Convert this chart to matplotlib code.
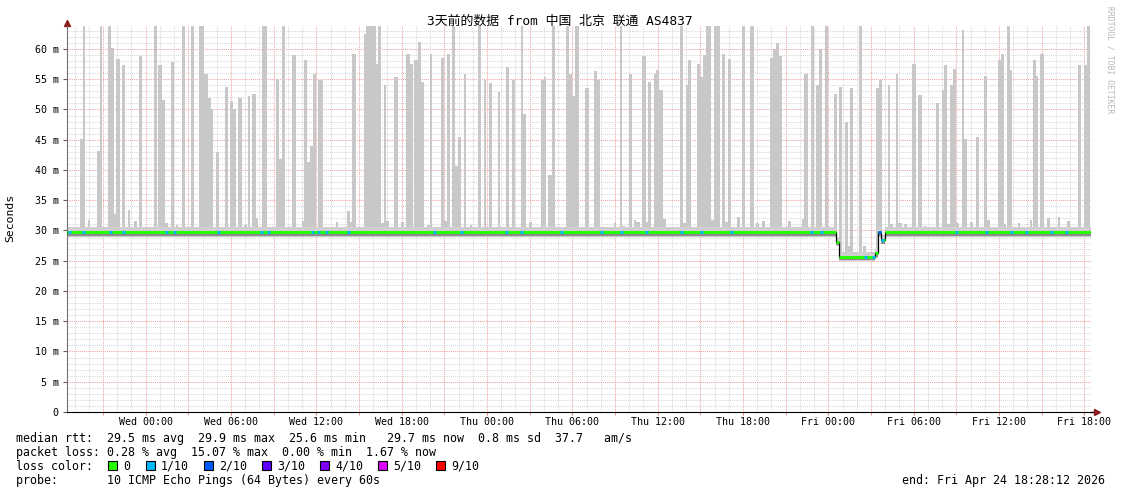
import numpy as np
import matplotlib
matplotlib.use("Agg")
import matplotlib.pyplot as plt
import matplotlib.dates as mdates
from matplotlib.patches import Rectangle
from datetime import datetime

plt.rcParams['font.family'] = ['DejaVu Sans Mono', 'Noto Sans CJK SC']

START = datetime(2026, 4, 21, 18, 28, 12)
SPAN_MIN = 4320  # 3 days

# smoke spikes (minutes since start, top in ms); 68 = off the scale
spikeStart = [53, 67, 87, 127, 141, 172, 186, 197, 208, 231, 256, 281, 304, 366, 385, 399, 413, 439, 458, 484,
              523, 557, 579, 593, 607, 627, 666, 686, 700, 723, 748, 762, 782, 796, 824, 880, 894, 908, 950, 990,
              1001, 1012, 1026, 1038, 1060,
              1133, 1181, 1192, 1204, 1252, 1263, 1288, 1302, 1313, 1325, 1336, 1347, 1381, 1409, 1432, 1446, 1465,
              1479, 1493, 1519, 1530, 1578, 1589, 1603, 1623, 1637, 1648, 1673, 1699, 1732, 1758, 1780, 1817, 1850,
              1876, 1915, 1924, 1949, 2000, 2011, 2030, 2047, 2104, 2118, 2132, 2143,
              2185, 2225, 2236, 2306, 2332, 2343, 2371, 2391, 2402, 2427, 2441, 2452, 2475, 2486, 2497, 2514, 2585,
              2599, 2610, 2621, 2658, 2669, 2683, 2694, 2717, 2728, 2765, 2776, 2787, 2826, 2846, 2883, 2908, 2930,
              2967, 2978, 2990, 3004, 3040, 3099, 3110, 3139, 3161, 3172, 3198, 3234,
              3257, 3282, 3293, 3305, 3341, 3360, 3412, 3426, 3462, 3473, 3496, 3507, 3532, 3566, 3592, 3614, 3665,
              3690, 3701, 3712, 3726, 3738, 3749, 3774, 3783, 3811, 3833, 3867, 3881, 3926, 3940, 3951, 3965, 3977,
              4011, 4061, 4075, 4086, 4106, 4134, 4179, 4219, 4266, 4289, 4303]
spikeEnd = [67, 76, 98, 141, 146, 186, 197, 208, 222, 245, 267, 295, 318, 380, 399, 413, 425, 450, 470, 498,
            534, 579, 593, 607, 616, 641, 680, 700, 711, 737, 759, 770, 796, 807, 844, 894, 908, 920, 967, 1001,
            1012, 1026, 1038, 1049, 1080,
            1145, 1192, 1204, 1218, 1263, 1288, 1302, 1313, 1325, 1336, 1347, 1358, 1395, 1420, 1446, 1460, 1479,
            1493, 1505, 1530, 1541, 1589, 1603, 1617, 1637, 1648, 1662, 1685, 1707, 1746, 1769, 1791, 1828, 1865,
            1890, 1924, 1935, 1960, 2011, 2019, 2047, 2059, 2118, 2132, 2143, 2160,
            2202, 2236, 2247, 2317, 2343, 2354, 2382, 2402, 2416, 2441, 2452, 2464, 2486, 2497, 2514, 2528, 2599,
            2610, 2621, 2632, 2669, 2683, 2694, 2717, 2728, 2753, 2776, 2787, 2801, 2840, 2860, 2897, 2919, 2945,
            2978, 2990, 3004, 3015, 3054, 3110, 3124, 3153, 3172, 3184, 3209, 3248,
            3268, 3293, 3305, 3316, 3352, 3372, 3426, 3437, 3473, 3485, 3507, 3521, 3544, 3580, 3606, 3625, 3679,
            3701, 3712, 3726, 3738, 3749, 3763, 3783, 3797, 3822, 3847, 3881, 3892, 3940, 3951, 3963, 3977, 3988,
            4022, 4072, 4086, 4098, 4120, 4145, 4190, 4230, 4278, 4303, 4317]
spikeTop = [45.1, 68, 31.7, 43.1, 68, 68, 60.2, 32.8, 58.4, 57.3, 33.4, 31.5, 58.9, 68, 57.4, 51.5, 31.2, 57.8, 30.9, 68,
            68, 68, 55.9, 51.9, 50.0, 43.0, 53.8, 51.4, 50.0, 51.9, 30.9, 52.2, 52.5, 32.0, 68, 55.1, 41.8, 68, 59.0, 31.6,
            58.1, 41.4, 44.0, 55.9, 54.9,
            31.4, 33.2, 31.4, 59.1, 62.5, 68, 68, 57.5, 68, 31.2, 54.1, 31.5, 55.4, 31.4, 59.2, 57.5, 58.2,
            61.2, 54.5, 30.9, 59.2, 58.5, 31.5, 59.2, 68, 40.7, 45.4, 55.8, 30.9, 68, 54.8, 54.3, 52.9, 57.0,
            54.8, 68, 49.2, 31.4, 54.8, 55.3, 39.1, 68, 68, 55.9, 52.3, 68,
            53.6, 56.3, 54.8, 31.2, 68, 30.7, 55.8, 31.8, 31.4, 58.8, 31.4, 54.6, 55.9, 56.5, 53.3, 31.9, 68,
            31.2, 54.0, 58.2, 57.5, 55.3, 59.0, 68, 31.8, 68, 59.2, 31.4, 58.4, 32.2, 68, 68, 31.2, 31.5,
            58.5, 60.0, 61.0, 58.8, 31.5, 31.9, 55.8, 68, 54.0, 60.0, 68, 52.6,
            53.8, 48.0, 27.4, 53.6, 68, 27.5, 53.5, 54.9, 54.1, 31.0, 55.8, 31.2, 31.0, 57.6, 52.4, 30.8, 51.0,
            53.3, 57.3, 31.0, 54.1, 56.7, 31.2, 63.2, 45.1, 31.4, 45.4, 55.6, 31.8, 58.2, 59.1, 31.0, 68, 56.6,
            31.2, 31.8, 58.1, 55.6, 59.2, 32.0, 32.2, 31.6, 57.4, 57.4, 68]

# median rtt, step changes (minutes since start, ms)
medianMin = [0, 3244, 3257, 3409, 3422, 3434, 3451]
medianVal = [29.7, 28.1, 25.6, 26.2, 29.7, 28.4, 29.7]

# packet loss episodes (minute since start, lost pings out of 10)
lossMin = [4, 63, 177, 232, 413, 447, 633, 814, 844, 1030, 1055, 1089, 1181, 1544, 1658, 1848, 1911, 2080,
           2249, 2333, 2439, 2586, 2670, 2797, 3135, 3177, 3363, 3397, 3422, 3436, 3746, 3873, 3978, 4042,
           4147, 4211]
lossLevel = [1, 1, 1, 1, 1, 1, 1, 1, 1, 1, 1, 1, 1, 1, 1, 1, 1, 1,
             1, 1, 1, 1, 1, 1, 1, 1, 1, 1, 2, 1, 1, 1, 1, 1,
             1, 1]

lossColors = ['#26ff00', '#00b8ff', '#0059ff', '#5e00ff', '#7e00ff', '#dd00ff', '#ff0000']
lossLabels = ['0', '1/10', '2/10', '3/10', '4/10', '5/10', '9/10']
lossIndex = {0: 0, 1: 1, 2: 2, 3: 3, 4: 4, 5: 5, 9: 6}

W, H = 1121, 494


def toX(minutes):
    return mdates.date2num(START) + np.asarray(minutes, dtype=float) / 1440.0


def medianAt(minutes):
    idx = np.searchsorted(medianMin, minutes, side='right') - 1
    return np.asarray(medianVal)[idx]


fig = plt.figure(figsize=(W / 100, H / 100), dpi=100)
ax = fig.add_axes([67 / W, 82 / H, (1091 - 67) / W, (412 - 26) / H])
ax.set_xlim(toX(0), toX(SPAN_MIN))
ax.set_ylim(0, 63.8)

# grid: gray every hour / 1 ms, red every 3 hours / 5 ms
firstHour = mdates.date2num(datetime(2026, 4, 21, 19))
for h in range(0, 73):
    t = firstHour + h / 24.0
    if t > toX(SPAN_MIN):
        break
    col = '#f2a0a0' if (19 + h) % 3 == 0 else '#d8d8d8'
    ax.axvline(t, color=col, lw=0.75, ls=(0, (1, 1)), zorder=0)
for v in range(1, 64):
    col = '#f2a0a0' if v % 5 == 0 else '#d8d8d8'
    ax.axhline(v, color=col, lw=0.75, ls=(0, (1, 1)), zorder=0)

# smoke spikes
sStart = np.array(spikeStart)
sEnd = np.array(spikeEnd)
base = medianAt(sStart)
ax.bar(toX(sStart), np.array(spikeTop) - base, bottom=base, width=(sEnd - sStart) / 1440.0,
       align='edge', color='#c8c8c8', lw=0, zorder=1)

# smoke band around the median
mx = toX(medianMin + [SPAN_MIN])
mv = np.array(medianVal + [medianVal[-1]])
ax.fill_between(mx, mv - 0.7, mv + 0.8, step='post', color='#cfcfcf', lw=0, zorder=2)
ax.fill_between(mx, mv - 0.55, mv - 0.15, step='post', color='#8c8c8c', lw=0, zorder=2)

# median line: black connectors, loss-coloured levels
ax.step(mx, mv, where='post', color='black', lw=0.9, zorder=3)
ax.hlines(medianVal, mx[:-1], mx[1:], color=lossColors[0], lw=2.1, zorder=4)
lm = np.array(lossMin)
ax.hlines(medianAt(lm), toX(lm), toX(lm + 12), colors=[lossColors[lossIndex[l]] for l in lossLevel],
          lw=2.1, zorder=5)

# axes
for s in ['top', 'right']:
    ax.spines[s].set_visible(False)
ax.spines['left'].set_color('#707070')
ax.spines['bottom'].set_color('black')
ax.plot([1, 1.006], [0, 0], transform=ax.transAxes, color='black', lw=1, clip_on=False)
ax.plot([1.006], [0], transform=ax.transAxes, marker='>', color='#8b1a1a', ms=4, clip_on=False)
ax.plot([0], [1.008], transform=ax.transAxes, marker='^', color='#8b1a1a', ms=4, clip_on=False)

ax.set_yticks(range(0, 61, 5))
ax.set_yticklabels(['0'] + ['%d m' % v for v in range(5, 61, 5)])
ax.tick_params(axis='y', length=3, color='#606060', pad=3, labelsize=7.2)

ax.xaxis.set_major_locator(mdates.HourLocator(byhour=[0, 6, 12, 18]))
ax.xaxis.set_minor_locator(mdates.HourLocator(byhour=[3, 9, 15, 21]))
ax.xaxis.set_major_formatter(mdates.DateFormatter('%a %H:%M'))
ax.tick_params(axis='x', which='both', length=2.5, color='#e08080', pad=1, labelsize=7.2)

# texts
fig.text(560 / W, 1 - 21 / H, '3天前的数据 from 中国 北京 联通 AS4837', ha='center', va='center', fontsize=9.3)
fig.text(10 / W, 1 - 218 / H, 'Seconds', rotation=90, ha='center', va='center', fontsize=8.2)
fig.text(1110 / W, 1 - 60 / H, 'RRDTOOL / TOBI OETIKER', rotation=270, ha='center', va='center',
         fontsize=5.8, color='#b8b8b8')

LEG = 8.4
fig.text(16 / W, 1 - 438 / H,
         'median rtt:  29.5 ms avg  29.9 ms max  25.6 ms min   29.7 ms now  0.8 ms sd  37.7   am/s',
         va='center', fontsize=LEG)
fig.text(16 / W, 1 - 452 / H, 'packet loss: 0.28 % avg  15.07 % max  0.00 % min  1.67 % now',
         va='center', fontsize=LEG)
fig.text(16 / W, 1 - 466 / H, 'loss color:', va='center', fontsize=LEG)
boxX = [108, 146, 204, 262, 320, 378, 436]
for bx, c, lab in zip(boxX, lossColors, lossLabels):
    fig.patches.append(Rectangle((bx / W, 1 - 470 / H), 9 / W, 9 / H, transform=fig.transFigure,
                                 facecolor=c, edgecolor='black', lw=0.8))
    fig.text((bx + 15) / W, 1 - 466 / H, lab, va='center', fontsize=LEG)
fig.text(16 / W, 1 - 480 / H, 'probe:       10 ICMP Echo Pings (64 Bytes) every 60s', va='center', fontsize=LEG)
fig.text(1105 / W, 1 - 480 / H, 'end: Fri Apr 24 18:28:12 2026', ha='right', va='center', fontsize=LEG)

fig.savefig('out.png', dpi=100)
